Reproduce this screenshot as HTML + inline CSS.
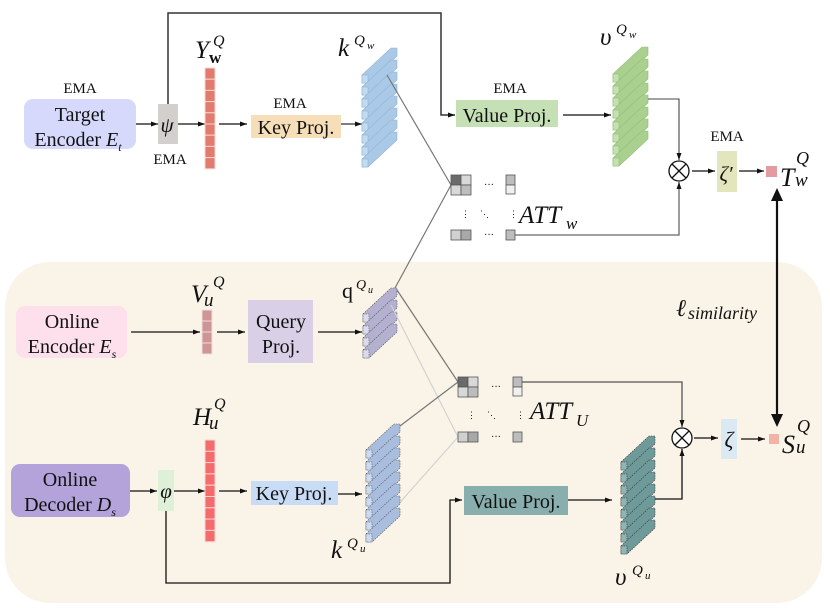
<!DOCTYPE html>
<html><head><meta charset="utf-8"><style>
html,body{margin:0;padding:0;background:#fff}
svg{display:block}
text{font-family:"Liberation Serif",serif;fill:#111}
.it{font-style:italic}
</style></head><body>
<svg width="830" height="609" viewBox="0 0 830 609" xmlns="http://www.w3.org/2000/svg">
<defs>
<marker id="a" markerWidth="8" markerHeight="8" refX="7" refY="4" orient="auto" markerUnits="userSpaceOnUse"><path d="M0,1.5 L7,4 L0,6.5 z" fill="#111"/></marker>
<g id="barB"><polygon points="0,0 29,-27 35,-27 35,-19 6,8 0,8" fill="#a9c9e6" stroke="#8fb3d6" stroke-width="0.6"/><rect x="0" y="0" width="6" height="8" fill="#c3dbf0" stroke="#8fb3d6" stroke-width="0.6"/></g>
<g id="barG"><polygon points="0,0 29,-27 35,-27 35,-19 6,8 0,8" fill="#a9d08e" stroke="#93bf77" stroke-width="0.6"/><rect x="0" y="0" width="6" height="8" fill="#c4e2af" stroke="#93bf77" stroke-width="0.6"/></g>
<g id="barP"><polygon points="0,0 28,-26 34,-26 34,-18 6,8 0,8" fill="#b3b1cf" stroke="#555" stroke-width="0.6" stroke-dasharray="1.5,1"/><rect x="0" y="0" width="6" height="8" fill="#dcdaf0" stroke="#555" stroke-width="0.6" stroke-dasharray="1.5,1"/></g>
<g id="barK"><polygon points="0,0 28,-26 34,-26 34,-18 6,8 0,8" fill="#a9bedf" stroke="#555" stroke-width="0.6" stroke-dasharray="1.5,1"/><rect x="0" y="0" width="6" height="8" fill="#cddbf0" stroke="#555" stroke-width="0.6" stroke-dasharray="1.5,1"/></g>
<g id="barT"><polygon points="0,0 28,-26 34,-26 34,-18 6,8 0,8" fill="#6f9a9a" stroke="#333" stroke-width="0.6" stroke-dasharray="1.5,1"/><rect x="0" y="0" width="6" height="8" fill="#8fb5b5" stroke="#333" stroke-width="0.6" stroke-dasharray="1.5,1"/></g>
</defs>

<rect x="5" y="262" width="817" height="341" rx="45" fill="#faf4e8"/>

<!-- ===== TOP ===== -->
<polyline points="168,104 168,13 441,13 441,115 455,115" fill="none" stroke="#333" stroke-width="1.5" marker-end="url(#a)"/>
<rect x="24" y="99" width="112" height="50" rx="9" fill="#d6d9fb"/>
<text x="80" y="93" font-size="15" text-anchor="middle">EMA</text>
<text x="80" y="121" font-size="20" text-anchor="middle">Target</text>
<text x="78" y="146" font-size="20" text-anchor="middle">Encoder <tspan class="it">E</tspan><tspan class="it" font-size="12" dy="5">t</tspan></text>
<line x1="136" y1="124" x2="158" y2="124" stroke="#111" stroke-width="1.3" marker-end="url(#a)"/>
<rect x="158" y="104" width="20" height="40" fill="#d3cfcc"/>
<text x="167" y="132" font-size="21" class="it" text-anchor="middle">ψ</text>
<text x="170" y="164" font-size="15" text-anchor="middle">EMA</text>
<line x1="178" y1="124" x2="205" y2="124" stroke="#111" stroke-width="1.3" marker-end="url(#a)"/>
<g fill="#e07b6d" stroke="#f7d6d0" stroke-width="1">
<rect x="205" y="68" width="10" height="11.2"/><rect x="205" y="79.2" width="10" height="11.2"/><rect x="205" y="90.4" width="10" height="11.2"/><rect x="205" y="101.6" width="10" height="11.2"/><rect x="205" y="112.8" width="10" height="11.2"/><rect x="205" y="124" width="10" height="11.2"/><rect x="205" y="135.2" width="10" height="11.2"/><rect x="205" y="146.4" width="10" height="11.2"/><rect x="205" y="157.6" width="10" height="11.2"/>
</g>
<text x="195" y="58" font-size="25" class="it">Y</text><text x="213" y="46" font-size="16" class="it">Q</text><text x="209" y="63" font-size="17" font-weight="bold">w</text>
<line x1="219" y1="124" x2="247" y2="124" stroke="#111" stroke-width="1.3" marker-end="url(#a)"/>
<rect x="251" y="115" width="90" height="23" fill="#f6dfb8"/>
<text x="290" y="108" font-size="15" text-anchor="middle">EMA</text>
<text x="296" y="134" font-size="20" text-anchor="middle">Key Proj.</text>
<line x1="341" y1="124" x2="362" y2="124" stroke="#333" stroke-width="1.3" marker-end="url(#a)"/>
<g><use href="#barB" x="362" y="75"/><use href="#barB" x="362" y="87"/><use href="#barB" x="362" y="99"/><use href="#barB" x="362" y="111"/><use href="#barB" x="362" y="123"/><use href="#barB" x="362" y="135"/><use href="#barB" x="362" y="147"/><use href="#barB" x="362" y="159"/></g>
<text x="338" y="56" font-size="25" class="it">k</text><text x="354" y="45" font-size="15" class="it">Q</text><text x="367" y="49" font-size="11" class="it">w</text>
<line x1="387" y1="75" x2="451" y2="185" stroke="#777" stroke-width="1.2"/>
<line x1="395" y1="288" x2="451" y2="185" stroke="#777" stroke-width="1.2"/>
<rect x="456" y="100" width="102" height="27" fill="#c5e0b4"/>
<text x="510" y="93" font-size="15" text-anchor="middle">EMA</text>
<text x="507" y="122" font-size="20" text-anchor="middle">Value Proj.</text>
<line x1="563" y1="115" x2="611" y2="115" stroke="#111" stroke-width="1.3" marker-end="url(#a)"/>
<g><use href="#barG" x="613" y="74"/><use href="#barG" x="613" y="86"/><use href="#barG" x="613" y="98"/><use href="#barG" x="613" y="110"/><use href="#barG" x="613" y="122"/><use href="#barG" x="613" y="134"/><use href="#barG" x="613" y="146"/><use href="#barG" x="613" y="158"/></g>
<text x="600" y="45" font-size="25" class="it">υ</text><text x="616" y="34" font-size="15" class="it">Q</text><text x="629" y="38" font-size="11" class="it">w</text>
<polyline points="648,99 679,99 679,160" fill="none" stroke="#444" stroke-width="1.1" marker-end="url(#a)"/>
<polyline points="515,235 679,235 679,182" fill="none" stroke="#666" stroke-width="1.3" marker-end="url(#a)"/>
<circle cx="679" cy="171" r="10" fill="#fff" stroke="#111" stroke-width="1.3"/>
<line x1="672" y1="164" x2="686" y2="178" stroke="#111" stroke-width="1.3"/><line x1="686" y1="164" x2="672" y2="178" stroke="#111" stroke-width="1.3"/>
<line x1="692" y1="171" x2="715" y2="171" stroke="#111" stroke-width="1.3" marker-end="url(#a)"/>
<rect x="717" y="151" width="20" height="41" fill="#e3e5bd"/>
<text x="727" y="141" font-size="15" text-anchor="middle">EMA</text>
<text x="726" y="181" font-size="21" class="it" text-anchor="middle">ζ′</text>
<line x1="739" y1="171" x2="764" y2="171" stroke="#111" stroke-width="1.3" marker-end="url(#a)"/>
<rect x="766" y="166" width="11" height="11" fill="#e39aa0"/>
<text x="780" y="186" font-size="26" class="it">T</text><text x="796" y="164" font-size="18" class="it">Q</text><text x="795" y="186" font-size="19" class="it">w</text>
<g stroke="#555" stroke-width="0.8">
<rect x="451" y="175" width="10" height="10" fill="#6b6b6b"/><rect x="461" y="175" width="10" height="10" fill="#d8d8d8"/><rect x="451" y="185" width="10" height="10" fill="#d8d8d8"/><rect x="461" y="185" width="10" height="10" fill="#bdbdbd"/>
<rect x="506" y="175" width="9" height="10" fill="#bdbdbd"/><rect x="506" y="185" width="9" height="9" fill="#f0f0f0"/>
<rect x="451" y="230" width="10" height="10" fill="#d0d0d0"/><rect x="461" y="230" width="10" height="10" fill="#a8a8a8"/><rect x="506" y="230" width="9" height="10" fill="#bdbdbd"/>
</g>
<text x="484" y="188" font-size="10">···</text><text x="484" y="238" font-size="10">···</text>
<text x="461" y="217" font-size="9">⋮</text><text x="480" y="217" font-size="9">⋱</text><text x="509" y="217" font-size="9">⋮</text>
<text x="519" y="223" font-size="25" class="it">ATT</text><text x="566" y="229" font-size="17" class="it">w</text>

<line x1="777" y1="196" x2="777" y2="421" stroke="#111" stroke-width="2.2"/>
<path d="M777,188 L771,201 L783,201 z" fill="#111"/>
<path d="M777,427 L771,414 L783,414 z" fill="#111"/>
<text x="676" y="316" font-size="24" class="it">ℓ</text><text x="688" y="319" font-size="18" class="it">similarity</text>

<!-- ===== BOTTOM ===== -->
<rect x="16" y="306" width="111" height="52" rx="9" fill="#fde0ec"/>
<text x="72" y="328" font-size="20" text-anchor="middle">Online</text>
<text x="72" y="353" font-size="20" text-anchor="middle">Encoder <tspan class="it">E</tspan><tspan class="it" font-size="12" dy="5">s</tspan></text>
<line x1="131" y1="332" x2="200" y2="332" stroke="#111" stroke-width="1.3" marker-end="url(#a)"/>
<g fill="#cd9595" stroke="#f3dcdc" stroke-width="1">
<rect x="202" y="310" width="10" height="11"/><rect x="202" y="321" width="10" height="11"/><rect x="202" y="332" width="10" height="11"/><rect x="202" y="343" width="10" height="11"/>
</g>
<text x="191" y="302" font-size="25" class="it">V</text><text x="213" y="287" font-size="16" class="it">Q</text><text x="204" y="306" font-size="19" class="it">u</text>
<line x1="217" y1="332" x2="245" y2="332" stroke="#111" stroke-width="1.3" marker-end="url(#a)"/>
<rect x="248" y="300" width="65" height="63" fill="#d9cfe6"/>
<text x="281" y="328" font-size="20" text-anchor="middle">Query</text>
<text x="281" y="353" font-size="20" text-anchor="middle">Proj.</text>
<line x1="318" y1="332" x2="362" y2="332" stroke="#111" stroke-width="1.3" marker-end="url(#a)"/>
<g><use href="#barP" x="363" y="314"/><use href="#barP" x="363" y="326"/><use href="#barP" x="363" y="338"/><use href="#barP" x="363" y="350"/></g>
<text x="342" y="298" font-size="22">q</text><text x="356" y="289" font-size="14" class="it">Q</text><text x="368" y="293" font-size="10" class="it">u</text>
<line x1="397" y1="290" x2="458" y2="382" stroke="#777" stroke-width="1.2"/>
<line x1="391" y1="305" x2="458" y2="437" stroke="#d2d2d2" stroke-width="1.2"/>
<line x1="400" y1="426" x2="458" y2="382" stroke="#777" stroke-width="1.2"/>
<line x1="395" y1="508" x2="458" y2="437" stroke="#d2d2d2" stroke-width="1.2"/>
<g stroke="#555" stroke-width="0.8">
<rect x="458" y="377" width="10" height="10" fill="#6b6b6b"/><rect x="468" y="377" width="10" height="10" fill="#d8d8d8"/><rect x="458" y="387" width="10" height="10" fill="#d8d8d8"/><rect x="468" y="387" width="10" height="10" fill="#bdbdbd"/>
<rect x="513" y="377" width="9" height="10" fill="#bdbdbd"/><rect x="513" y="387" width="9" height="9" fill="#f0f0f0"/>
<rect x="458" y="432" width="10" height="10" fill="#d0d0d0"/><rect x="468" y="432" width="10" height="10" fill="#a8a8a8"/><rect x="513" y="432" width="9" height="10" fill="#bdbdbd"/>
</g>
<text x="491" y="390" font-size="10">···</text><text x="491" y="440" font-size="10">···</text>
<text x="467" y="418" font-size="9">⋮</text><text x="487" y="418" font-size="9">⋱</text><text x="516" y="418" font-size="9">⋮</text>
<text x="530" y="419" font-size="25" class="it">ATT</text><text x="576" y="426" font-size="17" class="it">U</text>
<polyline points="522,382 682,382 682,427" fill="none" stroke="#555" stroke-width="1.3" marker-end="url(#a)"/>
<polyline points="655,499 682,499 682,449" fill="none" stroke="#111" stroke-width="1.3" marker-end="url(#a)"/>
<circle cx="682" cy="438" r="10" fill="#fff" stroke="#111" stroke-width="1.3"/>
<line x1="675" y1="431" x2="689" y2="445" stroke="#111" stroke-width="1.3"/><line x1="689" y1="431" x2="675" y2="445" stroke="#111" stroke-width="1.3"/>
<line x1="694" y1="438" x2="718" y2="438" stroke="#111" stroke-width="1.3" marker-end="url(#a)"/>
<rect x="721" y="419" width="16" height="40" fill="#dbe9f3"/>
<text x="729" y="447" font-size="22" class="it" text-anchor="middle">ζ</text>
<line x1="741" y1="439" x2="765" y2="439" stroke="#111" stroke-width="1.3" marker-end="url(#a)"/>
<rect x="769" y="434" width="10" height="10" fill="#f2b2a6"/>
<text x="782" y="453" font-size="26" class="it">S</text><text x="797" y="432" font-size="18" class="it">Q</text><text x="796" y="453" font-size="19" class="it">u</text>

<rect x="11" y="464" width="119" height="53" rx="9" fill="#b3a3da"/>
<text x="70" y="486" font-size="20" text-anchor="middle">Online</text>
<text x="70" y="511" font-size="20" text-anchor="middle">Decoder <tspan class="it">D</tspan><tspan class="it" font-size="12" dy="5">s</tspan></text>
<line x1="130" y1="491" x2="157" y2="491" stroke="#111" stroke-width="1.3" marker-end="url(#a)"/>
<rect x="158" y="470" width="16" height="41" fill="#dff0d9"/>
<text x="166" y="498" font-size="21" class="it" text-anchor="middle">φ</text>
<polyline points="166,511 166,583 450,583 450,500 462,500" fill="none" stroke="#111" stroke-width="1.3" marker-end="url(#a)"/>
<line x1="174" y1="491" x2="205" y2="491" stroke="#111" stroke-width="1.3" marker-end="url(#a)"/>
<g fill="#f36b6b" stroke="#fbd3d3" stroke-width="1">
<rect x="205" y="440" width="10" height="11.3"/><rect x="205" y="451.3" width="10" height="11.3"/><rect x="205" y="462.6" width="10" height="11.3"/><rect x="205" y="473.9" width="10" height="11.3"/><rect x="205" y="485.2" width="10" height="11.3"/><rect x="205" y="496.5" width="10" height="11.3"/><rect x="205" y="507.8" width="10" height="11.3"/><rect x="205" y="519.1" width="10" height="11.3"/><rect x="205" y="530.4" width="10" height="11.3"/>
</g>
<text x="193" y="425" font-size="25" class="it">H</text><text x="214" y="409" font-size="16" class="it">Q</text><text x="209" y="429" font-size="19" class="it">u</text>
<line x1="219" y1="491" x2="247" y2="491" stroke="#111" stroke-width="1.3" marker-end="url(#a)"/>
<rect x="251" y="481" width="87" height="24" fill="#c9dcf6"/>
<text x="294" y="500" font-size="20" text-anchor="middle">Key Proj.</text>
<line x1="338" y1="494" x2="362" y2="494" stroke="#111" stroke-width="1.3" marker-end="url(#a)"/>
<g><use href="#barK" x="366" y="450"/><use href="#barK" x="366" y="462"/><use href="#barK" x="366" y="474"/><use href="#barK" x="366" y="486"/><use href="#barK" x="366" y="498"/><use href="#barK" x="366" y="510"/><use href="#barK" x="366" y="522"/><use href="#barK" x="366" y="534"/></g>
<text x="331" y="558" font-size="25" class="it">k</text><text x="347" y="548" font-size="15" class="it">Q</text><text x="360" y="552" font-size="11" class="it">u</text>
<rect x="464" y="486" width="104" height="29" fill="#88aeae"/>
<text x="516" y="508" font-size="20" text-anchor="middle">Value Proj.</text>
<line x1="568" y1="500" x2="612" y2="500" stroke="#111" stroke-width="1.3" marker-end="url(#a)"/>
<g><use href="#barT" x="621" y="462"/><use href="#barT" x="621" y="474"/><use href="#barT" x="621" y="486"/><use href="#barT" x="621" y="498"/><use href="#barT" x="621" y="510"/><use href="#barT" x="621" y="522"/><use href="#barT" x="621" y="534"/><use href="#barT" x="621" y="546"/></g>
<text x="615" y="585" font-size="25" class="it">υ</text><text x="632" y="575" font-size="15" class="it">Q</text><text x="645" y="579" font-size="11" class="it">u</text>
</svg>
</body></html>
